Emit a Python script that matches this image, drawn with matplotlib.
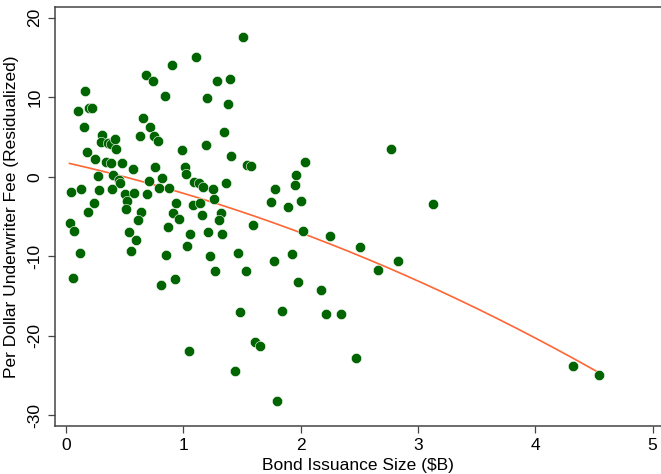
import numpy as np
import matplotlib
matplotlib.use("Agg")
import matplotlib.pyplot as plt

plt.rcParams['font.family'] = ['Liberation Sans', 'DejaVu Sans']
plt.rcParams['axes.unicode_minus'] = False

# Bond issuance size ($B)
size_b = [1.51, 1.11, 0.90, 0.68, 0.74, 1.29, 1.40, 0.84, 1.20, 1.38,
          0.16, 0.10, 0.20, 0.22, 0.15, 0.66, 0.72, 0.75, 0.78, 0.63,
          1.35, 1.19, 0.99, 1.41, 1.54, 1.58, 2.04, 1.96, 1.95, 2.00,
          1.89, 1.78, 1.75, 2.02, 1.59, 0.31, 0.30, 0.36, 0.38, 0.42,
          0.43, 0.18, 0.25, 0.34, 0.38, 0.48, 0.57, 0.76, 0.27, 0.40,
          0.45, 0.46, 0.39, 0.71, 0.82, 0.79, 0.88, 1.01, 1.02, 1.09,
          1.13, 1.17, 1.25, 1.36, 1.26, 0.04, 0.13, 0.28, 0.50, 0.52,
          0.51, 0.58, 0.69, 0.24, 0.19, 0.64, 0.61, 0.94, 1.08, 1.14,
          0.91, 0.96, 1.16, 1.32, 1.30, 0.03, 0.87, 0.07, 0.12, 0.06,
          0.54, 0.60, 0.55, 0.85, 0.81, 0.93, 1.06, 1.03, 1.21, 1.23,
          1.27, 1.33, 1.05, 1.47, 1.53, 1.48, 1.44, 1.61, 1.65, 1.77,
          1.84, 1.93, 1.98, 1.80, 2.25, 2.17, 2.22, 2.34, 2.51, 2.66,
          2.83, 3.13, 4.32, 4.54, 2.47, 2.77]

# Per dollar underwriter fee (residualized)
fee_resid = [17.6, 15.1, 14.0, 12.8, 12.1, 12.0, 12.3, 10.1, 9.9, 9.1,
             10.8, 8.3, 8.7, 8.7, 6.3, 7.4, 6.3, 5.1, 4.5, 5.1,
             5.6, 4.0, 3.4, 2.6, 1.5, 1.3, 1.8, 0.2, -1.0, -3.0,
             -3.8, -1.5, -3.2, -6.8, -6.1, 5.2, 4.4, 4.2, 4.1, 4.8,
             3.5, 3.1, 2.2, 1.9, 1.7, 1.7, 1.0, 1.2, 0.1, 0.2,
             -0.4, -0.8, -1.5, -0.5, -0.1, -1.4, -1.4, 1.2, 0.3, -0.7,
             -0.8, -1.3, -1.5, -0.8, -2.8, -1.9, -1.5, -1.7, -2.2, -3.1,
             -4.0, -2.0, -2.2, -3.3, -4.5, -4.4, -5.5, -3.3, -3.5, -3.3,
             -4.6, -5.3, -4.8, -4.6, -5.4, -5.8, -6.3, -6.8, -9.6, -12.7,
             -7.0, -7.9, -9.4, -9.8, -13.6, -12.9, -7.2, -8.7, -6.9, -10.0,
             -11.8, -7.2, -21.9, -9.6, -11.9, -17.0, -24.4, -20.8, -21.3, -10.6,
             -16.9, -9.7, -13.2, -28.2, -7.4, -14.2, -17.3, -17.3, -8.9, -11.7,
             -10.6, -3.4, -23.8, -25.0, -22.8, 3.5]

x_ticks = [0, 1, 2, 3, 4, 5]
y_ticks = [-30, -20, -10, 0, 10, 20]

x = np.array(size_b)
y = np.array(fee_resid)

fig = plt.figure(figsize=(6.61, 4.74), dpi=100)
ax = fig.add_axes([55 / 661, 48 / 474, 606 / 661, 419 / 474])

ax.scatter(x, y, s=55, color='#006400', edgecolors='white', linewidths=0.4, zorder=3)

# quadratic fit (qfit)
coef = np.polyfit(x, y, 2)
xs = np.linspace(x.min(), x.max(), 200)
ax.plot(xs, np.polyval(coef, xs), color='#ff6633', linewidth=1.2, zorder=2)

ax.set_xlim(-0.094, 5.072)
ax.set_ylim(-31.36, 21.35)
ax.set_xticks(x_ticks)
ax.set_yticks(y_ticks)

for side in ['left', 'bottom', 'top']:
    ax.spines[side].set_color('#444444')
    ax.spines[side].set_linewidth(1.1)
ax.spines['right'].set_visible(False)

ax.tick_params(axis='both', direction='out', length=5, width=0.9, color='#444444',
               labelsize=12.5, pad=4)
ax.tick_params(axis='y', labelrotation=90)
for lbl in ax.get_yticklabels():
    lbl.set_va('center')

ax.set_xlabel('Bond Issuance Size ($B)', fontsize=12.5, labelpad=3)
ax.set_ylabel('Per Dollar Underwriter Fee (Residualized)', fontsize=12.5, labelpad=6)

fig.savefig('out.png', dpi=100)
